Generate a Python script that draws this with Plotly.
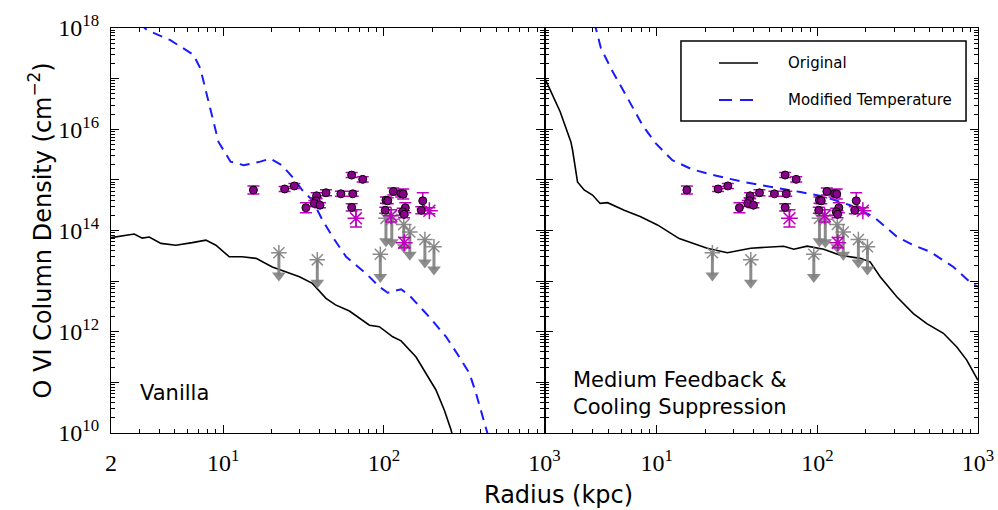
import numpy as np
import plotly.graph_objects as go

# ---------------- data ----------------
# simulation profiles: radius (kpc) and log10 column density
van_orig_r = [2.0, 2.4, 2.79, 3.13, 3.46, 4.09, 5.07, 6.41, 7.8, 9.0, 10.9, 13.1, 16.0, 20.2, 24.6,
              29.8, 35.9, 43.6, 50.0, 61.0, 81.3, 93.7, 113.5, 128, 158.6, 183, 211, 238, 262, 275]
van_orig_logN = [13.86, 13.90, 13.93, 13.85, 13.87, 13.745, 13.71, 13.76, 13.81, 13.71, 13.48, 13.48,
                 13.45, 13.28, 13.18, 13.085, 12.955, 12.66, 12.53, 12.41, 12.13, 12.10, 11.90, 11.82,
                 11.50, 11.18, 10.85, 10.45, 10.06, 9.8]

van_mod_r = [3.0, 3.35, 4.68, 6.53, 7.2, 7.9, 8.5, 9.34, 11.1, 13.4, 17.0, 19.6, 23.2, 26.9, 31.0, 35.8,
             41.4, 47.8, 58.2, 77.5, 93.7, 105.7, 128, 144, 192, 244, 295, 341, 375, 423, 450]
van_mod_logN = [18.1, 17.96, 17.76, 17.47, 17.20, 16.68, 16.22, 15.75, 15.36, 15.29, 15.36, 15.42, 15.29,
                15.06, 14.80, 14.60, 14.21, 13.88, 13.48, 13.15, 12.89, 12.77, 12.84, 12.72, 12.29,
                11.90, 11.50, 11.18, 10.78, 10.22, 9.9]

med_orig_r = [2.0, 2.5, 2.92, 2.99, 3.21, 3.53, 3.98, 4.44, 4.94, 6.27, 7.94, 10.1, 13.8, 20.6, 27.5,
              38.4, 61.7, 71.3, 86.3, 109.5, 139, 185, 213, 246, 312, 396, 480, 609, 738, 851, 1000]
med_orig_logN = [17.02, 16.35, 15.75, 15.59, 14.96, 14.80, 14.70, 14.535, 14.55, 14.40, 14.27, 14.11,
                 13.84, 13.65, 13.56, 13.65, 13.69, 13.63, 13.69, 13.63, 13.51, 13.45, 13.38, 13.085,
                 12.69, 12.36, 12.16, 11.97, 11.70, 11.44, 11.04]

med_mod_r = [4.0, 4.18, 4.49, 5.31, 6.41, 8.15, 9.86, 12.5, 16.5, 23.5, 34.5, 53.6, 78.3, 109.5, 160,
             224, 277, 312, 396, 504, 703, 914, 1000]
med_mod_logN = [18.1, 17.99, 17.60, 17.14, 16.68, 16.08, 15.72, 15.39, 15.21, 15.08, 14.96, 14.86, 14.76,
                14.67, 14.50, 14.27, 14.01, 13.88, 13.71, 13.58, 13.28, 12.95, 12.89]

# observations: detections (circles)
det_r = [15.4, 24.1, 27.7, 43.6, 38.1, 37.8, 36.9, 40.0, 32.7, 54, 64, 63, 73.8, 63, 114.5, 128, 132,
         103, 105.7, 102, 136, 131, 133.6, 174.6, 171]
det_logN = [14.80, 14.82, 14.88, 14.745, 14.686, 14.587, 14.535, 14.50, 14.45, 14.725, 14.725, 15.095,
            15.01, 14.456, 14.77, 14.73, 14.72, 14.60, 14.587, 14.40, 14.45, 14.37, 14.32, 14.587, 14.40]
det_err = [0.08, 0.05, 0.05, 0.06, 0.06, 0.06, 0.06, 0.05, 0.10, 0.05, 0.05, 0.05, 0.05, 0.07, 0.07,
           0.07, 0.10, 0.06, 0.06, 0.06, 0.10, 0.07, 0.07, 0.16, 0.07]

# observations: other detections (magenta stars)
star_r = [67, 192, 134, 111]
star_logN = [14.24, 14.39, 13.76, 14.29]
star_err = [0.17, 0.06, 0.10, 0.12]

# observations: upper limits (grey stars with arrows)
lim_r = [22.2, 38.5, 95, 103, 112, 133, 145, 180, 205]
lim_logN = [13.56, 13.42, 13.53, 14.24, 14.22, 14.12, 13.97, 13.82, 13.68]
arrow_dex = 0.45

x_ticks = [2, 10, 100, 1000]
x_ticktext = ["2", "10<sup>1</sup>", "10<sup>2</sup>", "10<sup>3</sup>"]
y_exps = list(range(10, 19))

legend_labels = ["Original", "Modified Temperature"]

# ---------------- figure ----------------
fig = go.Figure()

BLUE = "#1a1aff"
MAG = "#c000c0"
GREY = "rgba(128,128,128,0.9)"
DASH = "10px,7px"


def add_obs(xa, ya):
    # upper limit arrows
    ax, ay, tx, ty = [], [], [], []
    for r, l in zip(lim_r, lim_logN):
        ax += [r, r, None]
        ay += [10 ** l, 10 ** (l - arrow_dex), None]
        tx.append(r)
        ty.append(10 ** (l - arrow_dex))
    fig.add_trace(go.Scatter(x=ax, y=ay, mode="lines", line=dict(color=GREY, width=3),
                             xaxis=xa, yaxis=ya, showlegend=False, hoverinfo="skip"))
    fig.add_trace(go.Scatter(x=tx, y=ty, mode="markers",
                             marker=dict(symbol="triangle-down", size=12, color=GREY),
                             xaxis=xa, yaxis=ya, showlegend=False))
    fig.add_trace(go.Scatter(x=lim_r, y=[10 ** l for l in lim_logN], mode="markers",
                             marker=dict(symbol="asterisk-open", size=13, color=GREY,
                                         line=dict(color=GREY, width=1.5)),
                             xaxis=xa, yaxis=ya, showlegend=False))
    # magenta stars
    sy = np.array([10 ** l for l in star_logN])
    se = np.array(star_err)
    fig.add_trace(go.Scatter(x=star_r, y=sy, mode="markers",
                             marker=dict(symbol="asterisk-open", size=14, color=MAG,
                                         line=dict(color=MAG, width=1.5)),
                             error_y=dict(type="data", symmetric=False, array=sy * (10 ** se - 1),
                                          arrayminus=sy * (1 - 10 ** (-se)), color=MAG, thickness=1.5, width=6),
                             xaxis=xa, yaxis=ya, showlegend=False))
    # circles
    dy = np.array([10 ** l for l in det_logN])
    de = np.array(det_err)
    fig.add_trace(go.Scatter(x=det_r, y=dy, mode="markers",
                             marker=dict(symbol="circle", size=8, color="#8a008a",
                                         line=dict(color="black", width=1)),
                             error_y=dict(type="data", symmetric=False, array=dy * (10 ** de - 1),
                                          arrayminus=dy * (1 - 10 ** (-de)), color=MAG, thickness=1.5, width=6),
                             xaxis=xa, yaxis=ya, showlegend=False))


# left panel curves
fig.add_trace(go.Scatter(x=van_orig_r, y=[10 ** v for v in van_orig_logN], mode="lines",
                         line=dict(color="black", width=1.6), name=legend_labels[0],
                         xaxis="x", yaxis="y", showlegend=False))
fig.add_trace(go.Scatter(x=van_mod_r, y=[10 ** v for v in van_mod_logN], mode="lines",
                         line=dict(color=BLUE, width=2, dash=DASH), name=legend_labels[1],
                         xaxis="x", yaxis="y", showlegend=False))
add_obs("x", "y")

# right panel curves
fig.add_trace(go.Scatter(x=med_orig_r, y=[10 ** v for v in med_orig_logN], mode="lines",
                         line=dict(color="black", width=1.6), name=legend_labels[0],
                         xaxis="x2", yaxis="y2", showlegend=False))
fig.add_trace(go.Scatter(x=med_mod_r, y=[10 ** v for v in med_mod_logN], mode="lines",
                         line=dict(color=BLUE, width=2, dash=DASH), name=legend_labels[1],
                         xaxis="x2", yaxis="y2", showlegend=False))
add_obs("x2", "y2")

tickfont = dict(family="Liberation Serif", size=24, color="black")
minor = dict(ticks="inside", ticklen=4, tickwidth=1, tickcolor="black", showgrid=False, dtick="D1")
axis_common = dict(type="log", showline=True, linecolor="black", linewidth=1.3, mirror="ticks",
                   ticks="inside", ticklen=8, tickwidth=1.2, tickcolor="black", showgrid=False,
                   zeroline=False, minor=minor, tickfont=tickfont, automargin=False)

xr = [np.log10(2), 3]
yr = [10, 18]
y_vals = [10 ** e for e in y_exps]
y_text = ["10<sup>%d</sup>" % e if e % 2 == 0 else "" for e in y_exps]

# legend box (drawn in paper coordinates, like a matplotlib legend frame)
L_X0, L_X1, L_Y0, L_Y1 = 0.6574, 0.9862, 0.7704, 0.9679
S_X0, S_X1, T_X = 0.7013, 0.7463, 0.7785
ROW_Y = [0.9136, 0.8222]
shapes = [
    dict(type="rect", xref="paper", yref="paper", x0=L_X0, x1=L_X1, y0=L_Y0, y1=L_Y1,
         line=dict(color="black", width=1.5), fillcolor="white", layer="above"),
    dict(type="line", xref="paper", yref="paper", x0=S_X0, x1=S_X1, y0=ROW_Y[0], y1=ROW_Y[0],
         line=dict(color="black", width=1.6), layer="above"),
    dict(type="line", xref="paper", yref="paper", x0=S_X0, x1=S_X1, y0=ROW_Y[1], y1=ROW_Y[1],
         line=dict(color=BLUE, width=2, dash="13px,8px"), layer="above"),
]
legend_ann = [dict(text=lab, x=T_X, y=yy, xref="paper", yref="paper", showarrow=False,
                   xanchor="left", yanchor="middle", font=dict(family="DejaVu Sans", size=15, color="black"))
              for lab, yy in zip(legend_labels, ROW_Y)]

fig.update_layout(
    width=998, height=510,
    margin=dict(l=111, r=20, t=28, b=77, autoexpand=False),
    paper_bgcolor="white", plot_bgcolor="white",
    xaxis=dict(axis_common, domain=[0, 0.5], range=xr, tickmode="array", tickvals=x_ticks,
               ticktext=x_ticktext, anchor="y", ticklabelstandoff=8),
    xaxis2=dict(axis_common, domain=[0.5, 1], range=xr, tickmode="array", tickvals=x_ticks[1:],
                ticktext=x_ticktext[1:], anchor="y2", ticklabelstandoff=8),
    yaxis=dict(axis_common, domain=[0, 1], range=yr, tickmode="array", tickvals=y_vals, ticktext=y_text,
               anchor="x", ticklabelstandoff=6),
    yaxis2=dict(axis_common, domain=[0, 1], range=yr, tickmode="array", tickvals=y_vals, ticktext=y_text,
                anchor="x2", showticklabels=False, matches="y"),
    showlegend=False,
    shapes=shapes,
    annotations=[
        dict(text="Radius (kpc)", x=0.5156, y=-0.153, xref="paper", yref="paper", showarrow=False,
             xanchor="center", yanchor="middle", font=dict(family="DejaVu Sans", size=24, color="black")),
        dict(text="O VI Column Density (cm<sup>−2</sup>)", x=-0.0819, y=0.5, xref="paper", yref="paper",
             showarrow=False, textangle=-90, xanchor="center", yanchor="middle",
             font=dict(family="DejaVu Sans", size=24, color="black")),
        dict(text="Vanilla", x=0.0311, y=0.0988, xref="paper", yref="paper", showarrow=False,
             xanchor="left", yanchor="middle", font=dict(family="DejaVu Sans", size=21, color="black")),
        dict(text="Medium Feedback &amp;<br>Cooling Suppression", x=0.531, y=0.0975, xref="paper",
             yref="paper", showarrow=False, xanchor="left", yanchor="middle", align="left",
             font=dict(family="DejaVu Sans", size=21, color="black")),
    ] + legend_ann,
)

fig.write_html("out.html")
